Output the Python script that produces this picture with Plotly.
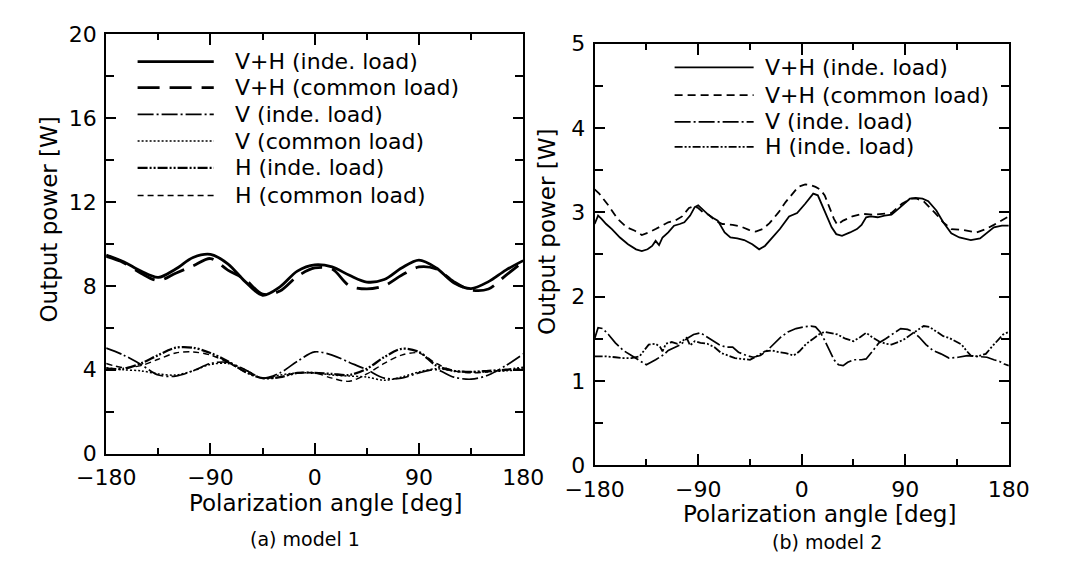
import plotly.graph_objects as go

W, H = 1066, 569

# ---------------- (a) model 1 data ----------------
angle_a = list(range(-180, 181, 15))
vh_inde_a = [9.47, 9.15, 8.7, 8.4, 8.8, 9.35, 9.5, 9.05, 8.2, 7.55, 7.95, 8.7, 9.0,
             8.9, 8.5, 8.18, 8.3, 8.85, 9.22, 8.85, 8.15, 7.87, 8.2, 8.75, 9.2]
vh_common_a = [9.4, 9.1, 8.6, 8.25, 8.6, 8.95, 9.3, 8.75, 8.3, 7.6, 7.75, 8.45, 8.85,
               8.8, 8.0, 7.85, 8.0, 8.5, 8.9, 8.8, 8.2, 7.8, 7.85, 8.5, 9.15]
v_inde_a = [5.03, 4.7, 4.25, 3.75, 3.7, 3.95, 4.3, 4.35, 4.0, 3.6, 3.85, 4.4, 4.85,
            4.7, 4.35, 4.0, 3.6, 3.6, 3.85, 4.0, 3.65, 3.55, 3.75, 4.2, 4.75]
v_common_a = [4.1, 4.0, 3.95, 3.8, 3.75, 3.95, 4.25, 4.3, 4.0, 3.6, 3.75, 3.85, 3.85,
              3.75, 3.7, 3.65, 3.5, 3.65, 3.9, 4.05, 3.95, 3.9, 3.9, 3.95, 4.0]
h_inde_a = [4.05, 4.05, 4.3, 4.7, 5.05, 5.05, 4.8, 4.4, 3.9, 3.6, 3.65, 3.85, 3.85,
            3.8, 3.75, 4.05, 4.6, 5.0, 4.85, 4.2, 3.95, 3.9, 3.95, 4.0, 4.1]
h_common_a = [4.3, 4.1, 4.2, 4.5, 4.8, 4.85, 4.7, 4.35, 3.9, 3.6, 3.65, 3.85, 3.85,
              3.6, 3.45, 3.8, 4.3, 4.7, 4.8, 4.3, 3.95, 3.85, 3.9, 4.0, 4.05]

# ---------------- (b) model 2 data ----------------
vh_inde_b_x = [-180, -177, -174, -170, -165, -158, -151, -144, -139, -134, -130, -127, -124,
               -121, -116, -111, -106, -102, -97, -93, -90, -86, -82, -77, -73, -67, -62,
               -56, -50, -43, -37, -32, -28, -19, -11, -4, 3, 10, 14, 18, 22, 26, 30, 35,
               42, 48, 52, 56, 60, 66, 72, 78, 84, 89, 94, 99, 105, 110, 117, 123, 130,
               137, 147, 155, 161, 167, 174, 180]
vh_inde_b_y = [2.86, 2.96, 2.92, 2.86, 2.8, 2.7, 2.62, 2.56, 2.54, 2.56, 2.6, 2.66, 2.61,
               2.7, 2.76, 2.84, 2.86, 2.88, 2.96, 3.06, 3.08, 3.03, 2.98, 2.93, 2.9, 2.76, 2.7,
               2.69, 2.67, 2.62, 2.56, 2.6, 2.66, 2.8, 2.95, 2.99, 3.1, 3.22, 3.2, 3.08, 2.95,
               2.82, 2.74, 2.72, 2.76, 2.8, 2.85, 2.94, 2.95, 2.94, 2.96, 2.97, 3.04, 3.1,
               3.16, 3.17, 3.16, 3.13, 3.02, 2.88, 2.75, 2.7, 2.67, 2.69, 2.76, 2.82, 2.84, 2.84]

vh_common_b_x = [-180, -176, -168, -160, -152, -145, -139, -133, -127, -122, -116, -110, -104,
                 -98, -94, -90, -86, -81, -75, -69, -60, -53, -46, -40, -34, -28, -20, -14,
                 -8, -3, 3, 8, 12, 16, 20, 24, 28, 31, 36, 44, 53, 62, 70, 78, 87, 95, 100,
                 106, 116, 123, 130, 140, 152, 160, 167, 173, 180]
vh_common_b_y = [3.27, 3.22, 3.08, 2.92, 2.82, 2.78, 2.73, 2.76, 2.8, 2.84, 2.88, 2.9, 2.95,
                 3.05, 3.07, 3.05, 3.0, 2.97, 2.9, 2.86, 2.85, 2.83, 2.79, 2.77, 2.8, 2.87, 3.0,
                 3.12, 3.22, 3.3, 3.33, 3.32, 3.3, 3.27, 3.2, 3.05, 2.92, 2.85, 2.9, 2.95, 2.98,
                 2.97, 2.98, 2.99, 3.1, 3.16, 3.16, 3.13, 2.99, 2.88, 2.8, 2.79, 2.76, 2.8,
                 2.85, 2.9, 2.95]

v_inde_b_x = [-180, -177, -173, -168, -162, -155, -148, -142, -135, -127, -120, -116, -110,
              -105, -100, -94, -88, -81, -76, -72, -66, -60, -55, -48, -42, -36, -30, -24,
              -18, -12, -5, 2, 8, 12, 16, 20, 24, 28, 32, 36, 40, 45, 52, 56, 62, 67, 73,
              80, 86, 92, 97, 102, 108, 114, 121, 128, 136, 144, 152, 161, 167, 172, 176, 180]
v_inde_b_y = [1.5, 1.63, 1.62, 1.55, 1.45, 1.36, 1.3, 1.25, 1.19, 1.25, 1.31, 1.36, 1.4,
              1.43, 1.5, 1.55, 1.57, 1.51, 1.46, 1.43, 1.4, 1.4, 1.34, 1.3, 1.28, 1.3, 1.36,
              1.44, 1.52, 1.58, 1.62, 1.64, 1.65, 1.64, 1.58, 1.48, 1.36, 1.25, 1.19, 1.18,
              1.22, 1.25, 1.25, 1.26, 1.36, 1.45, 1.5, 1.56, 1.62, 1.61, 1.58, 1.52, 1.43,
              1.36, 1.32, 1.27, 1.28, 1.3, 1.29, 1.28, 1.25, 1.23, 1.2, 1.18]

h_inde_b_x = [-180, -170, -162, -155, -148, -141, -137, -133, -127, -123, -121, -118, -113,
              -108, -103, -100, -97, -93, -88, -82, -76, -70, -64, -58, -52, -45, -38, -32,
              -26, -20, -14, -7, -2, 4, 10, 16, 20, 26, 31, 38, 45, 51, 56, 61, 67, 73, 78,
              84, 90, 96, 102, 106, 111, 117, 123, 128, 134, 139, 143, 147, 153, 160, 165,
              170, 175, 180]
h_inde_b_y = [1.29, 1.29, 1.28, 1.27, 1.27, 1.29, 1.36, 1.43, 1.44, 1.4, 1.35, 1.44, 1.46,
              1.44, 1.48, 1.51, 1.42, 1.47, 1.45, 1.44, 1.4, 1.33, 1.3, 1.27, 1.26, 1.25,
              1.3, 1.35, 1.36, 1.34, 1.33, 1.3, 1.35, 1.44, 1.5, 1.56, 1.58, 1.56, 1.55,
              1.5, 1.47, 1.52, 1.57, 1.52, 1.47, 1.44, 1.43, 1.46, 1.5, 1.56, 1.62, 1.65,
              1.64, 1.58, 1.53, 1.51, 1.47, 1.43, 1.36, 1.3, 1.29, 1.32, 1.4, 1.48, 1.55, 1.58]

labels_a = ["V+H (inde. load)", "V+H (common load)", "V (inde. load)",
            "V (common load)", "H (inde. load)", "H (common load)"]
labels_b = ["V+H (inde. load)", "V+H (common load)", "V (inde. load)", "H (inde. load)"]

# ---------------- styles ----------------
FONT = "DejaVu Sans"
styles_a = [
    dict(width=2.8, dash="solid"),
    dict(width=2.8, dash="22px,10px"),
    dict(width=1.7, dash="16px,3px,2px,3px"),
    dict(width=1.5, dash="2px,2px"),
    dict(width=2.3, dash="10px,2px,2px,2px,2px,2px"),
    dict(width=1.4, dash="6px,4px"),
]
styles_b = [
    dict(width=1.8, dash="solid"),
    dict(width=1.8, dash="8px,5px"),
    dict(width=1.7, dash="16px,3px,2px,3px"),
    dict(width=1.8, dash="8px,2px,2px,2px,2px,2px"),
]

fig = go.Figure()
series_a = [vh_inde_a, vh_common_a, v_inde_a, v_common_a, h_inde_a, h_common_a]
for ys, st, name in zip(series_a, styles_a, labels_a):
    fig.add_trace(go.Scatter(x=angle_a, y=ys, mode="lines", name=name, showlegend=False,
                             line=dict(color="black", width=st["width"], dash=st["dash"],
                                       shape="spline", smoothing=0.9),
                             xaxis="x", yaxis="y"))

series_b = [(vh_inde_b_x, vh_inde_b_y), (vh_common_b_x, vh_common_b_y),
            (v_inde_b_x, v_inde_b_y), (h_inde_b_x, h_inde_b_y)]
for (xs, ys), st, name in zip(series_b, styles_b, labels_b):
    fig.add_trace(go.Scatter(x=xs, y=ys, mode="lines", name=name, showlegend=False,
                             line=dict(color="black", width=st["width"], dash=st["dash"]),
                             xaxis="x2", yaxis="y2"))


def px_x(p):
    return p / W


def px_y(p):
    return 1 - p / H


def axis_common(**kw):
    d = dict(showline=True, linecolor="black", linewidth=2, mirror="ticks",
             ticks="inside", tickcolor="black", tickwidth=1.6, showgrid=False,
             zeroline=False, tickfont=dict(family=FONT, size=22, color="black"))
    d.update(kw)
    return d


xa = dict(range=[-180, 180], tickmode="linear", tick0=-180, dtick=90, ticklen=11,
          ticklabelstandoff=3,
          minor=dict(tick0=-180, dtick=45, ticks="inside", ticklen=6, tickwidth=1.5,
                     tickcolor="black"))

fig.update_layout(
    width=W, height=H, margin=dict(l=0, r=0, t=0, b=0),
    paper_bgcolor="white", plot_bgcolor="white", showlegend=False,
    xaxis=axis_common(domain=[px_x(80), px_x(518)], anchor="y", **xa),
    yaxis=axis_common(domain=[px_y(462), px_y(23)], anchor="x", range=[0, 20],
                      tickmode="linear", tick0=0, dtick=4, ticklen=10,
                      ticklabelstandoff=3,
                      minor=dict(tick0=0, dtick=2, ticks="inside", ticklen=8, tickwidth=1.5,
                                 tickcolor="black")),
    xaxis2=axis_common(domain=[px_x(593), px_x(1028)], anchor="y2", **xa),
    yaxis2=axis_common(domain=[px_y(474), px_y(33)], anchor="x2", range=[0, 5],
                       tickmode="linear", tick0=0, dtick=1, ticklen=10,
                       ticklabelstandoff=3,
                       minor=dict(tick0=0, dtick=0.5, ticks="inside", ticklen=8,
                                  tickwidth=1.5, tickcolor="black")),
)

annotations = []
shapes = []


def text(xp, yp, s, size, angle=0, xanchor="center"):
    annotations.append(dict(x=px_x(xp), y=px_y(yp), xref="paper", yref="paper", text=s,
                            showarrow=False, textangle=angle, xanchor=xanchor,
                            yanchor="middle",
                            font=dict(family=FONT, size=size, color="black")))


# axis titles and captions
text(20, 217, "Output power [W]", 23, angle=-90)
text(310, 514, "Polarization angle [deg]", 23)
text(289, 551, "(a) model 1", 19)
text(543, 230, "Output power [W]", 23, angle=-90)
text(829, 525, "Polarization angle [deg]", 23)
text(837, 554, "(b) model 2", 19)

# hand-drawn style legends
rows_a = [52, 79, 107, 135, 163, 192]
for yy, st, name in zip(rows_a, styles_a, labels_a):
    shapes.append(dict(type="line", xref="paper", yref="paper", x0=px_x(113), x1=px_x(193),
                       y0=px_y(yy), y1=px_y(yy),
                       line=dict(color="black", width=st["width"], dash=st["dash"])))
    text(213, yy, name, 22, xanchor="left")

rows_b = [58, 87, 115, 141]
for yy, st, name in zip(rows_b, styles_b, labels_b):
    shapes.append(dict(type="line", xref="paper", yref="paper", x0=px_x(677), x1=px_x(760),
                       y0=px_y(yy), y1=px_y(yy),
                       line=dict(color="black", width=st["width"], dash=st["dash"])))
    text(770, yy, name, 22, xanchor="left")

fig.update_layout(annotations=annotations, shapes=shapes)
fig.write_html("out.html")
